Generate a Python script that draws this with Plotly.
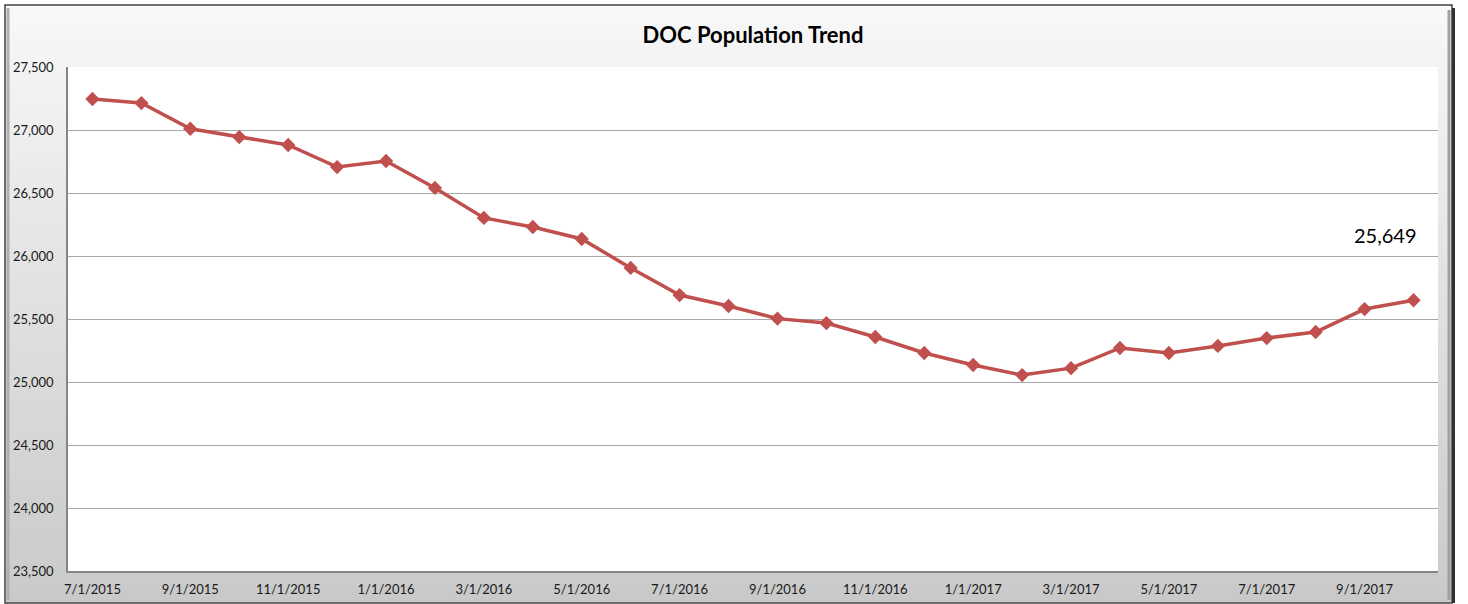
import plotly.graph_objects as go

months = ["7/1/2015", "8/1/2015", "9/1/2015", "10/1/2015", "11/1/2015", "12/1/2015",
          "1/1/2016", "2/1/2016", "3/1/2016", "4/1/2016", "5/1/2016", "6/1/2016",
          "7/1/2016", "8/1/2016", "9/1/2016", "10/1/2016", "11/1/2016", "12/1/2016",
          "1/1/2017", "2/1/2017", "3/1/2017", "4/1/2017", "5/1/2017", "6/1/2017",
          "7/1/2017", "8/1/2017", "9/1/2017", "10/1/2017"]
population = [27246, 27214, 27010, 26944, 26881, 26706,
              26754, 26540, 26302, 26230, 26135, 25905,
              25690, 25603, 25503, 25468, 25357, 25230,
              25135, 25055, 25110, 25270, 25230, 25286,
              25349, 25397, 25579, 25649]
tick_labels = months[::2]
y_ticks = [23500, 24000, 24500, 25000, 25500, 26000, 26500, 27000, 27500]

W, H = 1468, 604
ML, MR, MT, MB = 68, 30, 67, 33
PW, PH = W - ML - MR, H - MT - MB


def px(x):
    return (x - ML) / PW


def py(y):
    return (H - MB - y) / PH


fig = go.Figure()
fig.add_trace(go.Scatter(
    x=months, y=population, mode="lines+markers",
    line=dict(color="#C0504D", width=3.5),
    marker=dict(symbol="diamond", size=11, color="#C0504D"),
    hoverinfo="x+y", showlegend=False,
))

shapes = []
top_y, bot_y = 6, 602
n = 60
c0, c1 = 0xF8, 0xC9
for i in range(n):
    y0 = top_y + (bot_y - top_y) * i / n
    y1 = top_y + (bot_y - top_y) * (i + 1) / n + 0.6
    c = round(c0 + (c1 - c0) * (i + 0.5) / n)
    col = "#%02x%02x%02x" % (c, c, c)
    shapes.append(dict(type="rect", xref="paper", yref="paper",
                       x0=px(6), x1=px(1451), y0=py(y1), y1=py(y0),
                       fillcolor=col, line=dict(width=0), layer="below"))
shapes.append(dict(type="rect", xref="paper", yref="paper",
                   x0=px(5), x1=px(1452), y0=py(603), y1=py(5),
                   fillcolor="rgba(0,0,0,0)", line=dict(color="#404040", width=1.5), layer="below"))
shapes.append(dict(type="line", xref="paper", yref="paper",
                   x0=px(1453.5), x1=px(1453.5), y0=py(603), y1=py(8),
                   line=dict(color="#303030", width=3), layer="below"))
shapes.append(dict(type="line", xref="paper", yref="paper",
                   x0=px(1449), x1=px(1449), y0=py(600), y1=py(10),
                   line=dict(color="#a0a0a0", width=3), layer="below"))
shapes.append(dict(type="line", xref="paper", yref="paper",
                   x0=px(8), x1=px(8), y0=py(600), y1=py(8),
                   line=dict(color="#b0b0b0", width=3), layer="below"))
shapes.append(dict(type="rect", xref="x domain", yref="y domain",
                   x0=0, x1=1, y0=0, y1=1,
                   fillcolor="white", line=dict(width=0), layer="below"))

fig.update_layout(
    width=W, height=H,
    autosize=False,
    margin=dict(l=ML, r=MR, t=MT, b=MB, autoexpand=False),
    paper_bgcolor="white",
    plot_bgcolor="white",
    font=dict(family="Lato, Carlito, Calibri, sans-serif", color="#1a1a1a", size=13),
    title=dict(text="<b>DOC Population Trend</b>", x=0.5, xanchor="center",
               xref="paper", y=1 - 35 / H, yanchor="middle",
               font=dict(size=22, color="#000000")),
    shapes=shapes,
    xaxis=dict(type="category", tickmode="array", tickvals=tick_labels, ticktext=tick_labels,
               showgrid=False, showline=True, linecolor="#868686", linewidth=1.5,
               ticks="", tickfont=dict(size=13), range=[-0.5, len(months) - 0.5],
               zeroline=False, ticklabelstandoff=6, automargin=False),
    yaxis=dict(range=[23500, 27500], tickvals=y_ticks, tickformat=",d",
               showgrid=True, gridcolor="#a8a8a8", gridwidth=1,
               showline=True, linecolor="#868686", linewidth=1.5,
               ticks="", tickfont=dict(size=13), zeroline=False, ticklabelstandoff=10,
               automargin=False),
    annotations=[dict(x=months[-1], y=population[-1], xref="x", yref="y",
                      text=f"{population[-1]:,}", showarrow=False,
                      xshift=-28, yshift=65, font=dict(size=20, color="#000000"))],
)

fig.write_html("out.html",
               config={"displayModeBar": False, "responsive": False},
               post_script="document.body.style.margin='0';document.body.style.overflow='hidden';")
